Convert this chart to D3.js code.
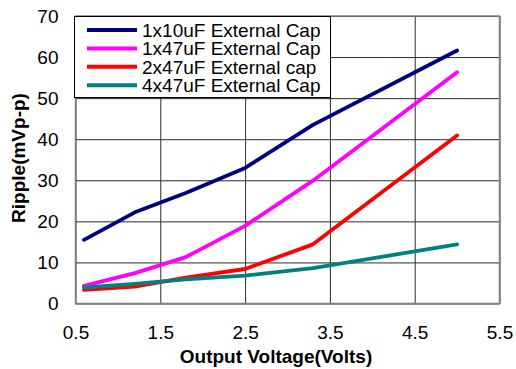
<!DOCTYPE html>
<html>
<head>
<meta charset="utf-8">
<script src="https://cdn.jsdelivr.net/npm/d3@7"></script>
<style>
  body { margin: 0; background: #fff; }
  svg { display: block; font-family: "Liberation Sans", Arial, sans-serif; }
</style>
</head>
<body>
<svg width="516" height="369"></svg>
<script>
// data
var voltages = [0.6, 1.2, 1.8, 2.5, 3.3, 5.0];
var seriesNames = ["1x10uF External Cap", "1x47uF External Cap", "2x47uF External cap", "4x47uF External Cap"];
var ripple1x10 = [15.5, 22.2, 26.9, 33.0, 43.5, 61.6];
var ripple1x47 = [4.3, 7.4, 11.3, 18.9, 29.9, 56.3];
var ripple2x47 = [3.3, 4.1, 6.3, 8.4, 14.4, 40.9];
var ripple4x47 = [3.9, 4.8, 5.9, 6.8, 8.6, 14.4];
var xTicks = [0.5, 1.5, 2.5, 3.5, 4.5, 5.5];
var yTicks = [0, 10, 20, 30, 40, 50, 60, 70];
var colors = ["#000080", "#ff00ff", "#ff0000", "#008080"];

var allSeries = [ripple1x10, ripple1x47, ripple2x47, ripple4x47];

var svg = d3.select("svg");
var plotLeft = 75.5, plotRight = 499.5, plotTop = 16, plotBottom = 303.5;

var x = d3.scaleLinear().domain([0.5, 5.5]).range([plotLeft, plotRight]);
var y = d3.scaleLinear().domain([0, 70]).range([plotBottom, plotTop]);

// grid + tick labels
var gx = svg.append("g")
    .attr("transform", "translate(0," + plotBottom + ")")
    .call(d3.axisBottom(x).tickValues(xTicks).tickSize(-(plotBottom - plotTop)).tickPadding(22).tickFormat(d3.format(".1f")));
var gy = svg.append("g")
    .attr("transform", "translate(" + plotLeft + ",0)")
    .call(d3.axisLeft(y).tickValues(yTicks).tickSize(-(plotRight - plotLeft)).tickPadding(17));

[gx, gy].forEach(function(g) {
  g.select(".domain").remove();
  g.selectAll("line").attr("stroke", "#2a2a2a").attr("stroke-width", 1);
  g.selectAll("text").attr("fill", "#000").style("font-size", "19px");
});

// plot border
svg.append("rect")
    .attr("x", plotLeft).attr("y", plotTop)
    .attr("width", plotRight - plotLeft).attr("height", plotBottom - plotTop)
    .attr("fill", "none").attr("stroke", "#808080").attr("stroke-width", 1.5);

// series lines
var line = d3.line()
    .x(function(d, i) { return x(voltages[i]); })
    .y(function(d) { return y(d); });

svg.append("g").selectAll("path")
    .data(allSeries)
    .enter().append("path")
      .attr("d", line)
      .attr("fill", "none")
      .attr("stroke", function(d, i) { return colors[i]; })
      .attr("stroke-width", 3.8)
      .attr("stroke-linejoin", "round")
      .attr("stroke-linecap", "round");

// legend
var legend = svg.append("g");
legend.append("rect")
    .attr("x", 74.5).attr("y", 16.5)
    .attr("width", 256).attr("height", 81)
    .attr("fill", "#fff").attr("stroke", "#000").attr("stroke-width", 1);

var item = legend.selectAll("g.item")
    .data(seriesNames)
    .enter().append("g")
      .attr("class", "item")
      .attr("transform", function(d, i) { return "translate(0," + (30 + i * 18.4) + ")"; });

item.append("line")
    .attr("x1", 87).attr("x2", 137)
    .attr("stroke", function(d, i) { return colors[i]; })
    .attr("stroke-width", 4);

item.append("text")
    .attr("x", 142).attr("dy", "0.36em")
    .style("font-size", "19px")
    .text(function(d) { return d; });

// axis titles
svg.append("text")
    .attr("x", 276).attr("y", 363)
    .attr("text-anchor", "middle")
    .style("font-size", "19px").style("font-weight", "bold")
    .text("Output Voltage(Volts)");

svg.append("text")
    .attr("transform", "translate(25,158) rotate(-90)")
    .attr("text-anchor", "middle")
    .style("font-size", "19px").style("font-weight", "bold")
    .text("Ripple(mVp-p)");
</script>
</body>
</html>
